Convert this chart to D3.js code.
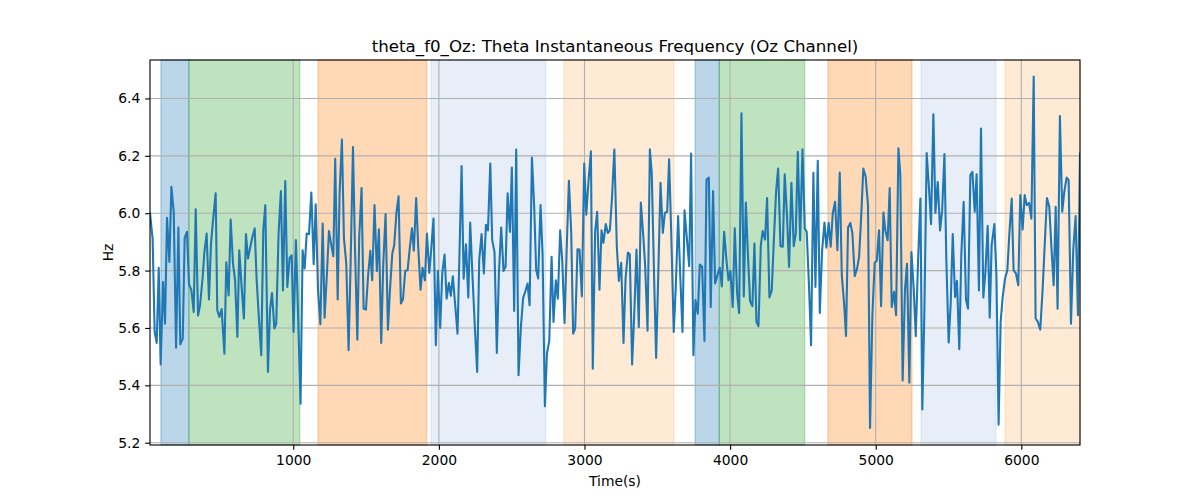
<!DOCTYPE html>
<html>
<head>
<meta charset="utf-8">
<script src="https://cdn.jsdelivr.net/npm/d3@7"></script>
<style>
  body { margin: 0; background: #fff; }
  text { font-family: "DejaVu Sans", sans-serif; }
</style>
</head>
<body>
<div id="chart"></div>
<script>
// sample times (s) and theta instantaneous frequency (Hz)
var times = [16, 34, 48, 62, 76, 89, 106, 119, 133, 149, 163, 179, 195, 211, 224, 241, 254, 270, 284, 300,
  316, 330, 346, 359, 378, 389, 405, 421, 435, 451, 467, 478, 492, 508, 527, 540, 556, 570, 586, 600,
  616, 629, 645, 661, 675, 689, 705, 719, 735, 748, 764, 780, 794, 808, 826, 840, 854, 870, 883, 899,
  915, 929, 945, 959, 975, 989, 1002, 1018, 1034, 1050,
  1064, 1078, 1092, 1108, 1124, 1140, 1154, 1170, 1186, 1202, 1215, 1231, 1245, 1261, 1275, 1288, 1305, 1318, 1334, 1348,
  1364, 1380, 1394, 1410, 1423, 1440, 1453, 1469, 1483, 1499, 1513, 1529, 1542, 1558, 1574, 1588, 1604, 1618, 1634, 1650,
  1664, 1680, 1693, 1709, 1723, 1739, 1753, 1769, 1785, 1799, 1815, 1828, 1844, 1858, 1874, 1888, 1904, 1918, 1934, 1947,
  1963, 1979, 1993, 2009, 2023, 2039, 2053, 2069, 2082, 2096, 2112, 2128,
  2156, 2170, 2186, 2202, 2215, 2231, 2247, 2263, 2277, 2293, 2309, 2323, 2337, 2353, 2366, 2382, 2398, 2412, 2428, 2444,
  2458, 2472, 2488, 2501, 2517, 2531, 2547, 2563, 2579, 2593, 2609, 2623, 2639, 2655, 2668, 2682, 2698, 2712, 2728, 2742,
  2758, 2774, 2787, 2803, 2817, 2833, 2847, 2863, 2879, 2893, 2909, 2922, 2936, 2952, 2966, 2982, 2998, 3012, 3028, 3044,
  3057, 3073, 3087, 3103, 3117, 3130, 3146, 3160, 3174, 3188,
  3205, 3222, 3236, 3252, 3268, 3282, 3298, 3311, 3327, 3341, 3357, 3373, 3387, 3403, 3417, 3433, 3449, 3462, 3478, 3492,
  3508, 3522, 3538, 3552, 3568, 3581, 3597, 3613, 3627, 3643, 3657, 3673, 3687, 3703, 3719, 3732, 3748, 3762, 3778, 3792,
  3808, 3824, 3838, 3854, 3867, 3883, 3897, 3913, 3929, 3943, 3959, 3975, 3989, 4002, 4018, 4032, 4048, 4062, 4078, 4094,
  4108, 4124, 4137, 4153, 4167, 4181, 4195, 4211, 4224, 4240, 4254,
  4270, 4286, 4300, 4316, 4330, 4346, 4362, 4375, 4391, 4405, 4421, 4437, 4451, 4465, 4481, 4497, 4513, 4526, 4542, 4556,
  4572, 4586, 4602, 4616, 4632, 4648, 4661, 4677, 4691, 4705, 4721, 4737, 4753, 4767, 4783, 4796, 4810, 4826, 4840, 4856,
  4872, 4886, 4899, 4915, 4931, 4947, 4961, 4977, 4993, 5007, 5023, 5037, 5053, 5066, 5082, 5096, 5110, 5126, 5140, 5156,
  5169, 5185, 5201, 5215, 5231, 5245, 5261, 5275, 5291, 5307,
  5320, 5334, 5350, 5366, 5380, 5396, 5410, 5426, 5442, 5456, 5472, 5485, 5501, 5515, 5529, 5545, 5558, 5574, 5588, 5604,
  5620, 5634, 5650, 5664, 5680, 5693, 5709, 5723, 5739, 5753, 5769, 5783, 5796, 5815, 5829, 5844, 5858, 5872, 5888, 5904,
  5918, 5934, 5947, 5963, 5979, 5993, 6009, 6023, 6037, 6053, 6069, 6085, 6098, 6114, 6130, 6146, 6160, 6176, 6192, 6206,
  6222, 6236, 6249, 6265, 6281, 6295, 6311, 6325, 6341, 6357, 6373, 6389, 6403];

var freqs = [6.00, 5.91, 5.586, 5.548, 5.81, 5.473, 5.76, 5.615, 5.984, 5.83, 6.092, 6.005, 5.531, 5.95, 5.543, 5.563, 5.914, 5.935, 5.752, 5.733,
  5.656, 6.014, 5.643, 5.676, 5.778, 5.862, 5.929, 5.699, 5.894, 5.987, 6.069, 5.662, 5.638, 5.666, 5.51, 5.829, 5.713, 5.978, 5.824, 5.768,
  5.569, 5.871, 5.745, 5.633, 5.927, 5.842, 5.883, 5.917, 5.947, 5.772, 5.633, 5.505, 5.94, 6.028, 5.447, 5.662, 5.722, 5.598, 5.615, 5.929,
  6.077, 5.731, 6.112, 5.743, 5.845, 5.853, 5.586, 5.906, 5.627, 5.336,
  5.871, 5.807, 5.929, 5.927, 6.072, 5.822, 6.031, 5.731, 5.613, 5.964, 5.636, 5.79, 5.938, 5.888, 5.85, 6.19, 5.699, 6.069, 6.257, 5.912,
  5.824, 5.522, 5.83, 6.231, 5.894, 5.559, 5.917, 6.088, 5.667, 5.664, 5.778, 5.869, 5.766, 6.028, 5.799, 5.944, 5.548, 5.824, 5.997, 5.594,
  5.733, 5.859, 5.888, 6.005, 6.059, 5.685, 5.699, 5.799, 5.801, 5.873, 5.947, 5.869, 6.053, 5.883, 5.733, 5.81, 5.766, 5.929, 5.792, 5.871,
  5.981, 5.54, 5.799, 5.6, 5.79, 5.856, 5.702, 5.757, 5.712, 5.78, 5.679, 5.58,
  6.164, 5.772, 5.892, 5.706, 5.967, 5.778, 5.603, 5.447, 5.836, 5.927, 5.79, 5.96, 5.94, 6.173, 5.906, 5.865, 5.513, 5.79, 5.95, 5.799,
  5.813, 6.069, 5.935, 6.159, 5.659, 6.222, 5.435, 5.603, 5.706, 5.726, 5.755, 5.679, 6.194, 6.016, 5.803, 5.772, 6.028, 5.859, 5.327, 5.51,
  5.555, 5.848, 5.621, 5.766, 5.702, 5.94, 5.836, 5.617, 5.897, 6.113, 5.929, 5.58, 5.598, 5.874, 5.873, 5.71, 6.173, 5.995, 6.115, 6.216,
  5.458, 5.935, 6.005, 5.733, 5.94, 5.897, 5.962, 5.931, 5.94, 6.045,
  6.222, 5.883, 5.764, 5.827, 5.548, 5.772, 5.863, 5.857, 5.473, 5.638, 5.873, 5.603, 6.037, 5.927, 5.813, 5.59, 6.223, 6.138, 5.778, 5.495,
  5.813, 6.106, 5.931, 6.001, 6.005, 6.188, 5.906, 5.586, 5.743, 5.99, 5.79, 5.586, 6.01, 5.912, 5.815, 6.208, 5.505, 5.697, 5.65, 5.821,
  5.813, 5.555, 6.117, 6.124, 5.673, 6.077, 5.755, 5.784, 5.81, 5.745, 5.935, 5.836, 5.766, 5.799, 5.673, 5.947, 5.722, 5.652, 6.348, 5.71,
  6.037, 5.836, 5.694, 5.676, 5.894, 5.621, 5.606, 5.888, 5.938, 5.908, 6.053,
  5.706, 5.731, 5.9, 6.077, 6.156, 5.885, 5.883, 6.136, 5.987, 5.813, 6.106, 5.885, 5.929, 6.214, 5.906, 6.223, 5.947, 5.935, 5.745, 5.54,
  6.141, 5.743, 6.183, 5.652, 5.871, 5.967, 5.88, 5.966, 5.883, 5.999, 6.04, 5.871, 6.142, 5.784, 5.685, 5.572, 5.95, 5.966, 5.929, 5.78,
  5.807, 5.848, 5.976, 6.156, 6.127, 6.028, 5.251, 5.644, 5.827, 5.834, 5.94, 5.676, 6.002, 5.94, 5.906, 6.088, 5.673, 5.726, 5.644, 6.226,
  6.133, 5.417, 5.733, 5.824, 5.409, 5.865, 5.737, 5.571, 5.836, 6.051,
  5.316, 5.65, 6.21, 6.086, 5.962, 6.345, 6.001, 6.109, 5.94, 6.008, 6.206, 5.836, 5.549, 5.685, 5.927, 5.708, 5.764, 5.526, 5.857, 6.04,
  5.699, 5.667, 6.133, 6.144, 6.005, 6.136, 5.731, 6.295, 5.706, 5.792, 5.956, 5.636, 5.888, 5.962, 5.784, 5.263, 5.621, 5.708, 5.772, 5.801,
  5.929, 6.051, 5.801, 5.79, 5.749, 6.063, 5.943, 6.063, 6.028, 6.036, 5.981, 6.476, 5.633, 5.621, 5.594, 5.731, 5.883, 6.053, 6.022, 5.888,
  5.749, 6.022, 5.667, 6.339, 6.005, 6.074, 6.124, 6.115, 5.615, 5.876, 5.99, 5.644, 6.208];

// shaded segments
var spanStart = [91, 283, 1170, 1946, 2859, 3760, 3926, 4672, 5311, 5888];
var spanEnd = [283, 1044, 1916, 2733, 3613, 3926, 4512, 5249, 5826, 6403];
var spanKind = ["blue", "green", "orange", "lightblue", "lightorange", "blue", "green", "orange", "lightblue", "lightorange"];

var xTicks = [1000, 2000, 3000, 4000, 5000, 6000];
var yTicks = [5.2, 5.4, 5.6, 5.8, 6.0, 6.2, 6.4];

var spanStyle = {
  blue: { color: "#1f77b4", alpha: 0.3 },
  green: { color: "#2ca02c", alpha: 0.3 },
  orange: { color: "#ff7f0e", alpha: 0.3 },
  lightblue: { color: "#aec7e8", alpha: 0.3 },
  lightorange: { color: "#ffbb78", alpha: 0.3 }
};

// 1pt = 100/72 px
var pt = 100 / 72;

var svgWidth = 1200;
var svgHeight = 500;
var margin = { top: 60, right: 120, bottom: 55, left: 150 };
var width = svgWidth - margin.left - margin.right;
var height = svgHeight - margin.top - margin.bottom;

var svg = d3.select("#chart")
  .append("svg")
  .attr("width", svgWidth)
  .attr("height", svgHeight);

var chartGroup = svg.append("g")
  .attr("transform", `translate(${margin.left}, ${margin.top})`);

var xScale = d3.scaleLinear()
  .domain([16, 6403])
  .range([0, width]);

var yScale = d3.scaleLinear()
  .domain([5.192, 6.534])
  .range([height, 0]);

// spans (below grid)
chartGroup.selectAll("rect.span")
  .data(spanStart)
  .enter()
  .append("rect")
  .attr("class", "span")
  .attr("x", (d, i) => xScale(d))
  .attr("y", 0)
  .attr("width", (d, i) => xScale(spanEnd[i]) - xScale(d))
  .attr("height", height)
  .attr("fill", (d, i) => spanStyle[spanKind[i]].color)
  .attr("fill-opacity", (d, i) => spanStyle[spanKind[i]].alpha)
  .attr("stroke", (d, i) => spanStyle[spanKind[i]].color)
  .attr("stroke-opacity", (d, i) => spanStyle[spanKind[i]].alpha)
  .attr("stroke-width", pt);

// grid
chartGroup.selectAll("line.vgrid")
  .data(xTicks)
  .enter()
  .append("line")
  .attr("x1", d => xScale(d))
  .attr("x2", d => xScale(d))
  .attr("y1", 0)
  .attr("y2", height)
  .attr("stroke", "#b0b0b0")
  .attr("stroke-width", 0.8 * pt);

chartGroup.selectAll("line.hgrid")
  .data(yTicks)
  .enter()
  .append("line")
  .attr("x1", 0)
  .attr("x2", width)
  .attr("y1", d => yScale(d))
  .attr("y2", d => yScale(d))
  .attr("stroke", "#b0b0b0")
  .attr("stroke-width", 0.8 * pt);

// the line
var points = times.map((t, i) => [t, freqs[i]]);
var line = d3.line()
  .x(d => xScale(d[0]))
  .y(d => yScale(d[1]));

chartGroup.append("defs").append("clipPath")
  .attr("id", "clip")
  .append("rect")
  .attr("width", width)
  .attr("height", height);

chartGroup.append("path")
  .datum(points)
  .attr("clip-path", "url(#clip)")
  .attr("fill", "none")
  .attr("stroke", "#1f77b4")
  .attr("stroke-width", 1.5 * pt)
  .attr("stroke-linejoin", "round")
  .attr("stroke-linecap", "square")
  .attr("d", line);

// axes
var xAxis = d3.axisBottom(xScale).tickValues(xTicks).tickFormat(d3.format("d"))
  .tickSize(3.5 * pt).tickPadding(3.5 * pt);
var yAxis = d3.axisLeft(yScale).tickValues(yTicks).tickFormat(d3.format(".1f"))
  .tickSize(3.5 * pt).tickPadding(3.5 * pt);

var gx = chartGroup.append("g")
  .attr("transform", `translate(0, ${height})`)
  .call(xAxis);
var gy = chartGroup.append("g")
  .call(yAxis);

[gx, gy].forEach(function(g) {
  g.select(".domain").remove();
  g.selectAll(".tick line").attr("stroke", "#000").attr("stroke-width", 0.8 * pt);
  g.selectAll(".tick text")
    .attr("fill", "#000")
    .style("font-family", "DejaVu Sans")
    .style("font-size", (10 * pt) + "px");
});

// frame
chartGroup.append("rect")
  .attr("width", width)
  .attr("height", height)
  .attr("fill", "none")
  .attr("stroke", "#000")
  .attr("stroke-width", 0.8 * pt);

// labels
chartGroup.append("text")
  .attr("x", width / 2)
  .attr("y", -6 * pt)
  .attr("text-anchor", "middle")
  .style("font-size", (12 * pt) + "px")
  .text("theta_f0_Oz: Theta Instantaneous Frequency (Oz Channel)");

chartGroup.append("text")
  .attr("x", width / 2)
  .attr("y", height + 41)
  .attr("text-anchor", "middle")
  .style("font-size", (10 * pt) + "px")
  .text("Time(s)");

chartGroup.append("text")
  .attr("transform", "rotate(-90)")
  .attr("x", -height / 2)
  .attr("y", -37)
  .attr("text-anchor", "middle")
  .style("font-size", (10 * pt) + "px")
  .text("Hz");
</script>
</body>
</html>
